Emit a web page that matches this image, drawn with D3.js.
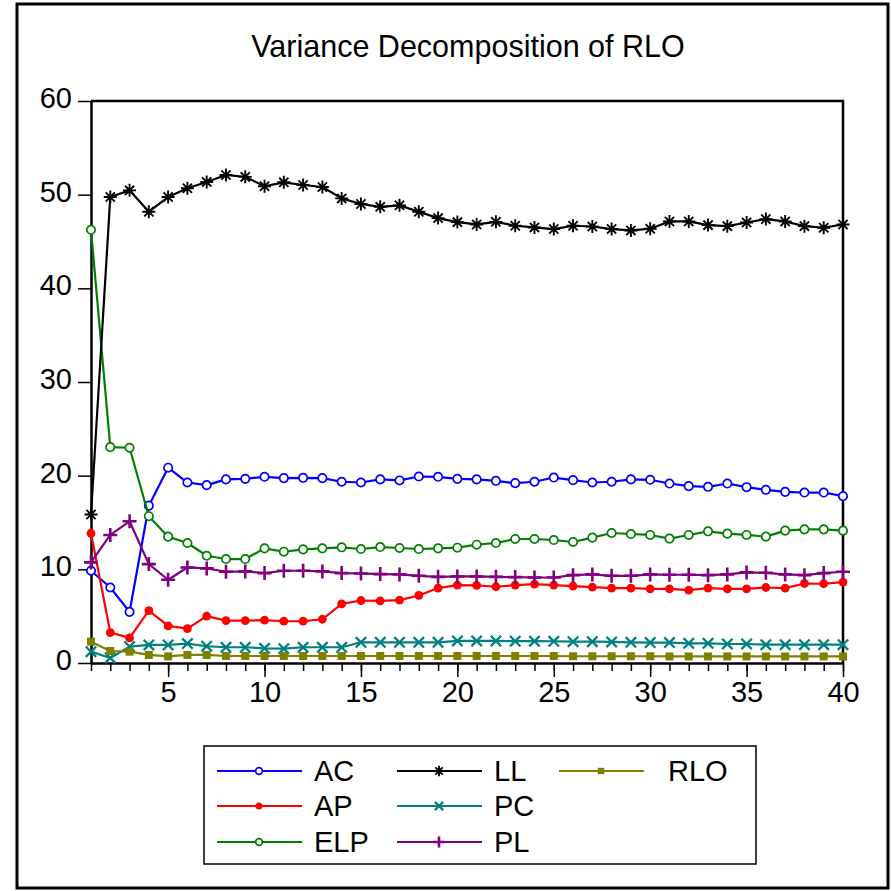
<!DOCTYPE html>
<html>
<head>
<meta charset="utf-8">
<script src="https://cdn.jsdelivr.net/npm/d3@7"></script>
<style>
  html, body { margin: 0; padding: 0; background: #fff; }
  svg { display: block; font-family: "Liberation Sans", Arial, sans-serif; }
</style>
</head>
<body>
<svg id="chart" width="891" height="891"></svg>
<script>
// Forecast horizon (periods)
const periods = [1,2,3,4,5,6,7,8,9,10,11,12,13,14,15,16,17,18,19,20,
                 21,22,23,24,25,26,27,28,29,30,31,32,33,34,35,36,37,38,39,40];

// Share of RLO forecast-error variance explained by each shock (%)
const AC  = [9.85, 8.06, 5.46, 16.8, 20.85, 19.27, 18.99, 19.6, 19.66, 19.88,
             19.74, 19.77, 19.74, 19.35, 19.27, 19.6, 19.49, 19.91, 19.88, 19.66,
             19.6, 19.45, 19.2, 19.35, 19.8, 19.52, 19.27, 19.35, 19.6, 19.56,
             19.16, 18.88, 18.81, 19.16, 18.77, 18.49, 18.27, 18.2, 18.2, 17.81];
const AP  = [13.85, 3.25, 2.68, 5.6, 3.96, 3.67, 5.0, 4.53, 4.53, 4.57,
             4.46, 4.46, 4.67, 6.31, 6.67, 6.64, 6.71, 7.21, 8.0, 8.32,
             8.28, 8.14, 8.32, 8.42, 8.32, 8.21, 8.1, 8.0, 8.0, 7.92,
             7.92, 7.78, 8.0, 7.92, 7.92, 8.06, 8.0, 8.49, 8.46, 8.64];
const ELP = [46.25, 23.05, 22.98, 15.67, 13.49, 12.81, 11.45, 11.1, 11.1, 12.24,
             11.88, 12.13, 12.24, 12.35, 12.17, 12.38, 12.28, 12.17, 12.24, 12.31,
             12.63, 12.81, 13.24, 13.24, 13.13, 12.92, 13.38, 13.88, 13.77, 13.67,
             13.28, 13.67, 14.06, 13.81, 13.67, 13.49, 14.13, 14.27, 14.27, 14.13];
const LL  = [15.85, 49.75, 50.46, 48.18, 49.75, 50.68, 51.36, 52.1, 51.9, 50.9,
             51.32, 51.03, 50.82, 49.6, 49.0, 48.7, 48.86, 48.18, 47.5, 47.07,
             46.82, 47.1, 46.68, 46.5, 46.33, 46.68, 46.6, 46.33, 46.18, 46.36,
             47.14, 47.14, 46.75, 46.64, 47.03, 47.39, 47.14, 46.64, 46.47, 46.82];
const PC  = [1.21, 0.54, 1.75, 1.93, 1.93, 2.07, 1.79, 1.68, 1.68, 1.57,
             1.53, 1.68, 1.68, 1.68, 2.21, 2.21, 2.21, 2.21, 2.21, 2.36,
             2.36, 2.36, 2.33, 2.33, 2.32, 2.28, 2.28, 2.25, 2.21, 2.18,
             2.18, 2.1, 2.1, 2.03, 2.03, 1.96, 1.96, 1.96, 1.96, 1.96];
const PL  = [10.74, 13.67, 15.13, 10.56, 8.89, 10.2, 10.1, 9.74, 9.78, 9.6,
             9.85, 9.85, 9.78, 9.6, 9.56, 9.49, 9.46, 9.31, 9.2, 9.24,
             9.24, 9.2, 9.17, 9.13, 9.13, 9.38, 9.46, 9.31, 9.31, 9.46,
             9.42, 9.42, 9.38, 9.46, 9.67, 9.63, 9.46, 9.38, 9.6, 9.74];
const RLO = [2.28, 1.28, 1.21, 0.86, 0.71, 0.86, 0.86, 0.75, 0.75, 0.75,
             0.75, 0.75, 0.75, 0.75, 0.75, 0.75, 0.75, 0.75, 0.75, 0.75,
             0.75, 0.75, 0.75, 0.75, 0.75, 0.72, 0.72, 0.72, 0.72, 0.72,
             0.7, 0.7, 0.7, 0.7, 0.7, 0.7, 0.7, 0.7, 0.7, 0.7];

const seriesNames = ["AC", "AP", "ELP", "LL", "PC", "PL", "RLO"];
const yTicks = [0, 10, 20, 30, 40, 50, 60];
const xMajorTicks = [5, 10, 15, 20, 25, 30, 35, 40];
const chartTitle = "Variance Decomposition of RLO";

const series = [
  { name: "AC",  values: AC,  color: "#0000ff", marker: "openCircle" },
  { name: "AP",  values: AP,  color: "#ff0000", marker: "dot" },
  { name: "ELP", values: ELP, color: "#008000", marker: "openCircle" },
  { name: "LL",  values: LL,  color: "#000000", marker: "asterisk" },
  { name: "PC",  values: PC,  color: "#008080", marker: "cross" },
  { name: "PL",  values: PL,  color: "#800080", marker: "plus" },
  { name: "RLO", values: RLO, color: "#808000", marker: "square" }
];

const svg = d3.select("#chart");
const FONT = 29;

// Outer frame
svg.append("rect")
  .attr("x", 17).attr("y", 4).attr("width", 871).attr("height", 884)
  .attr("fill", "none").attr("stroke", "#000").attr("stroke-width", 3);

// Title
svg.append("text")
  .attr("x", 468).attr("y", 57)
  .attr("text-anchor", "middle")
  .attr("font-size", 30.5)
  .text(chartTitle);

const plot = { left: 91, right: 843, top: 101, bottom: 663 };
const x = d3.scaleLinear().domain([1, 40]).range([plot.left, plot.right]);
const y = d3.scaleLinear().domain([0, 60]).range([plot.bottom, plot.top]);

// Plot frame (top and right edges)
svg.append("path")
  .attr("d", `M${plot.left},${plot.top}H${plot.right}V${plot.bottom}`)
  .attr("fill", "none").attr("stroke", "#000").attr("stroke-width", 2.5);

// Y axis
const yAxis = svg.append("g")
  .attr("transform", `translate(${plot.left},0)`)
  .call(d3.axisLeft(y).tickValues(yTicks).tickSize(13).tickPadding(6).tickSizeOuter(0));
yAxis.select(".domain").attr("stroke-width", 2.5);
yAxis.selectAll(".tick line").attr("stroke-width", 1.5);
yAxis.selectAll(".tick text")
  .attr("font-size", FONT).attr("font-family", "Liberation Sans, Arial, sans-serif")
  .attr("fill", "#000").attr("dy", "0.22em");

// X axis: minor ticks at every period
const xMinor = svg.append("g")
  .attr("transform", `translate(0,${plot.bottom})`)
  .call(d3.axisBottom(x).tickValues(periods).tickSize(8).tickFormat("").tickSizeOuter(0));
xMinor.select(".domain").attr("stroke-width", 2.5);
xMinor.selectAll(".tick line").attr("stroke-width", 1.5);

// X axis: labelled major ticks
const xMajor = svg.append("g")
  .attr("transform", `translate(0,${plot.bottom})`)
  .call(d3.axisBottom(x).tickValues(xMajorTicks).tickSize(14).tickPadding(4).tickSizeOuter(0));
xMajor.select(".domain").remove();
xMajor.selectAll(".tick line").attr("stroke-width", 1.5);
xMajor.selectAll(".tick text")
  .attr("font-size", FONT).attr("font-family", "Liberation Sans, Arial, sans-serif")
  .attr("fill", "#000");

// Marker drawing
function drawMarker(g, type, color, s) {
  switch (type) {
    case "openCircle":
      g.append("circle").attr("r", 4.2 * s).attr("fill", "#fff")
        .attr("stroke", color).attr("stroke-width", 1.7);
      break;
    case "dot":
      g.append("circle").attr("r", 4.4 * s).attr("fill", color);
      break;
    case "asterisk": {
      const r = 6.5 * s;
      const d = r * Math.SQRT1_2;
      g.append("path")
        .attr("d", `M0,${-r}V${r}M${-r},0H${r}M${-d},${-d}L${d},${d}M${-d},${d}L${d},${-d}`)
        .attr("stroke", color).attr("stroke-width", 1.9).attr("fill", "none");
      break;
    }
    case "cross": {
      const r = 5.2 * s;
      g.append("path")
        .attr("d", `M${-r},${-r}L${r},${r}M${-r},${r}L${r},${-r}`)
        .attr("stroke", color).attr("stroke-width", 2.3).attr("fill", "none");
      break;
    }
    case "plus": {
      const r = 7 * s;
      g.append("path")
        .attr("d", `M0,${-r}V${r}M${-r},0H${r}`)
        .attr("stroke", color).attr("stroke-width", 2.6).attr("fill", "none");
      break;
    }
    case "square": {
      const h = 4 * s;
      g.append("rect").attr("x", -h).attr("y", -h)
        .attr("width", 2 * h).attr("height", 2 * h).attr("fill", color);
      break;
    }
  }
}

// Series lines and markers
const line = d3.line()
  .x((d, i) => x(periods[i]))
  .y(d => y(d));

const plotG = svg.append("g");
series.forEach(s => {
  const g = plotG.append("g").attr("class", "series-" + s.name);
  g.append("path")
    .attr("d", line(s.values))
    .attr("fill", "none")
    .attr("stroke", s.color)
    .attr("stroke-width", 2.2)
    .attr("stroke-linejoin", "round");
  s.values.forEach((v, i) => {
    const m = g.append("g").attr("transform", `translate(${x(periods[i])},${y(v)})`);
    drawMarker(m, s.marker, s.color, 1);
  });
});

// Legend
const legend = svg.append("g");
legend.append("rect")
  .attr("x", 204).attr("y", 746).attr("width", 552).attr("height", 118)
  .attr("fill", "#fff").attr("stroke", "#000").attr("stroke-width", 1.5);

const colX = [217, 397, 559];
const rowY = [771, 806, 842];
series.forEach((s, k) => {
  const col = k < 3 ? 0 : (k < 6 ? 1 : 2);
  const row = k < 3 ? k : (k < 6 ? k - 3 : 0);
  const x0 = colX[col], yy = rowY[row];
  const item = legend.append("g");
  item.append("line")
    .attr("x1", x0).attr("x2", x0 + 85).attr("y1", yy).attr("y2", yy)
    .attr("stroke", s.color).attr("stroke-width", 2.2);
  const m = item.append("g").attr("transform", `translate(${x0 + 42},${yy})`);
  drawMarker(m, s.marker, s.color, 0.8);
  item.append("text")
    .attr("x", col === 2 ? x0 + 109 : x0 + 97).attr("y", yy + 10)
    .attr("font-size", FONT)
    .text(s.name);
});
</script>
</body>
</html>
